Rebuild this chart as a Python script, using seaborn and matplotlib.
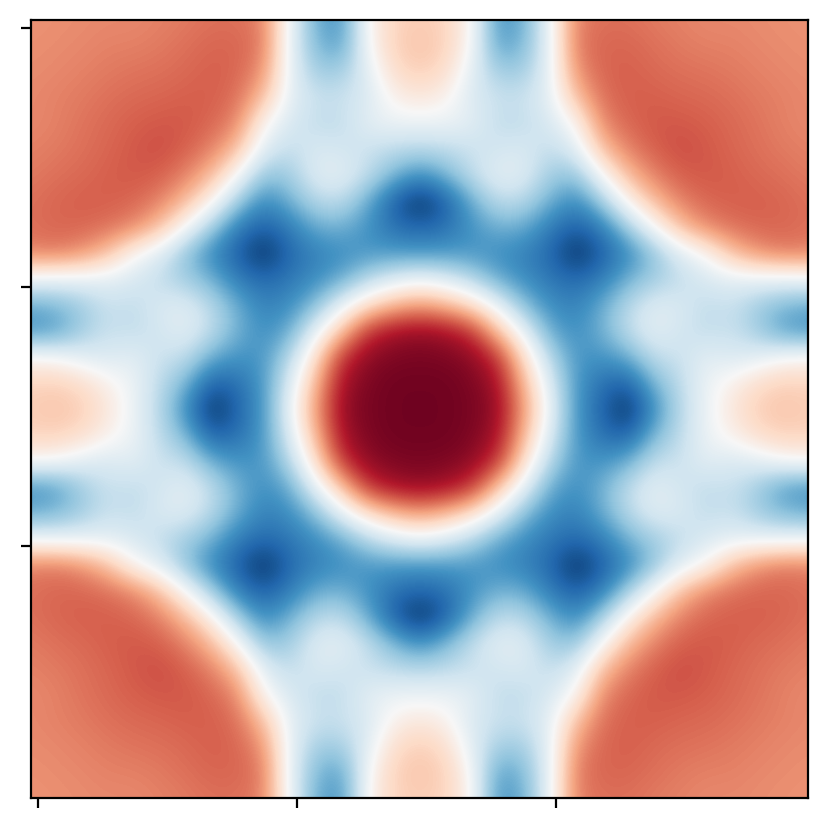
import matplotlib
matplotlib.use("Agg")
import matplotlib.pyplot as plt
import numpy as np
import seaborn as sns

# values, in percent of the colour range
# rows go from the centre to the edge, columns too (one quadrant)
quadrant = [
    [97, 97, 95, 88, 42, -6, -58, -80, -100, -62, -28, -6, 12, 25, 28, 25],
    [97, 97, 94, 84, 34, -14, -57, -75, -82, -46, -26, -6, 5, 18, 24, 22],
    [95, 94, 90, 72, 18, -28, -58, -60, -50, -24, -22, -10, -15, -10, 0, 3],
    [88, 84, 72, 30, -8, -50, -62, -48, -25, -10, -18, -25, -22, -35, -55, -60],
    [42, 34, 18, -8, -42, -62, -68, -50, -28, -12, -15, -25, -22, -35, -45, -50],
    [-6, -14, -28, -50, -62, -72, -78, -70, -48, -35, -25, -15, -10, -8, -8, -5],
    [-58, -57, -58, -62, -68, -78, -100, -82, -65, -40, -12, 2, 30, 45, 52, 50],
    [-80, -75, -60, -48, -50, -70, -82, -70, -35, 0, 30, 48, 55, 58, 58, 55],
    [-100, -82, -50, -25, -28, -48, -65, -35, 5, 32, 50, 58, 60, 60, 58, 55],
    [-62, -46, -24, -10, -12, -35, -40, 0, 32, 50, 60, 62, 60, 57, 55, 52],
    [-28, -26, -22, -18, -15, -25, -12, 30, 50, 60, 65, 62, 58, 55, 52, 50],
    [-6, -6, -10, -25, -25, -15, 2, 48, 58, 62, 62, 60, 57, 54, 50, 48],
    [12, 5, -15, -22, -22, -10, 30, 55, 60, 60, 58, 57, 55, 52, 50, 48],
    [25, 18, -10, -35, -35, -8, 45, 58, 60, 57, 55, 54, 52, 50, 48, 47],
    [28, 24, 0, -55, -45, -8, 52, 58, 58, 55, 52, 50, 50, 48, 47, 46],
    [25, 22, 3, -60, -50, -5, 50, 55, 55, 52, 50, 48, 48, 47, 46, 45],
]
x_ticks = [0.8, 10.77, 20.77]
y_ticks = [0.81, 10.81, 20.77]

q = np.array(quadrant) / 100
top = np.hstack([q[::-1, :0:-1], q[::-1, :]])
bottom = np.hstack([q[:, :0:-1], q])[1:]
field = np.vstack([top, bottom])

cmap = sns.color_palette("RdBu_r", as_cmap=True)

fig = plt.figure(figsize=(4.15, 4.15), dpi=200)
ax = fig.add_axes([31 / 830, 1 - 798 / 830, 777 / 830, 778 / 830])
sns.heatmap(field, cmap=cmap, vmin=-1, vmax=1, cbar=False, square=True, ax=ax)
n = field.shape[0]
ax.imshow(field, cmap=cmap, vmin=-1, vmax=1, interpolation="bicubic",
          extent=(0, n, n, 0), zorder=2)

half = 389 / 26
ax.set_xlim(n / 2 - half, n / 2 + half)
ax.set_ylim(n / 2 + half, n / 2 - half)
ax.set_xticks(x_ticks)
ax.set_yticks(y_ticks)
ax.set_xticklabels([])
ax.set_yticklabels([])
ax.tick_params(length=3.5, width=0.8, color="black")
for s in ax.spines.values():
    s.set_visible(True)
    s.set_linewidth(0.8)
    s.set_color("black")

fig.savefig("out.png", dpi=200)
